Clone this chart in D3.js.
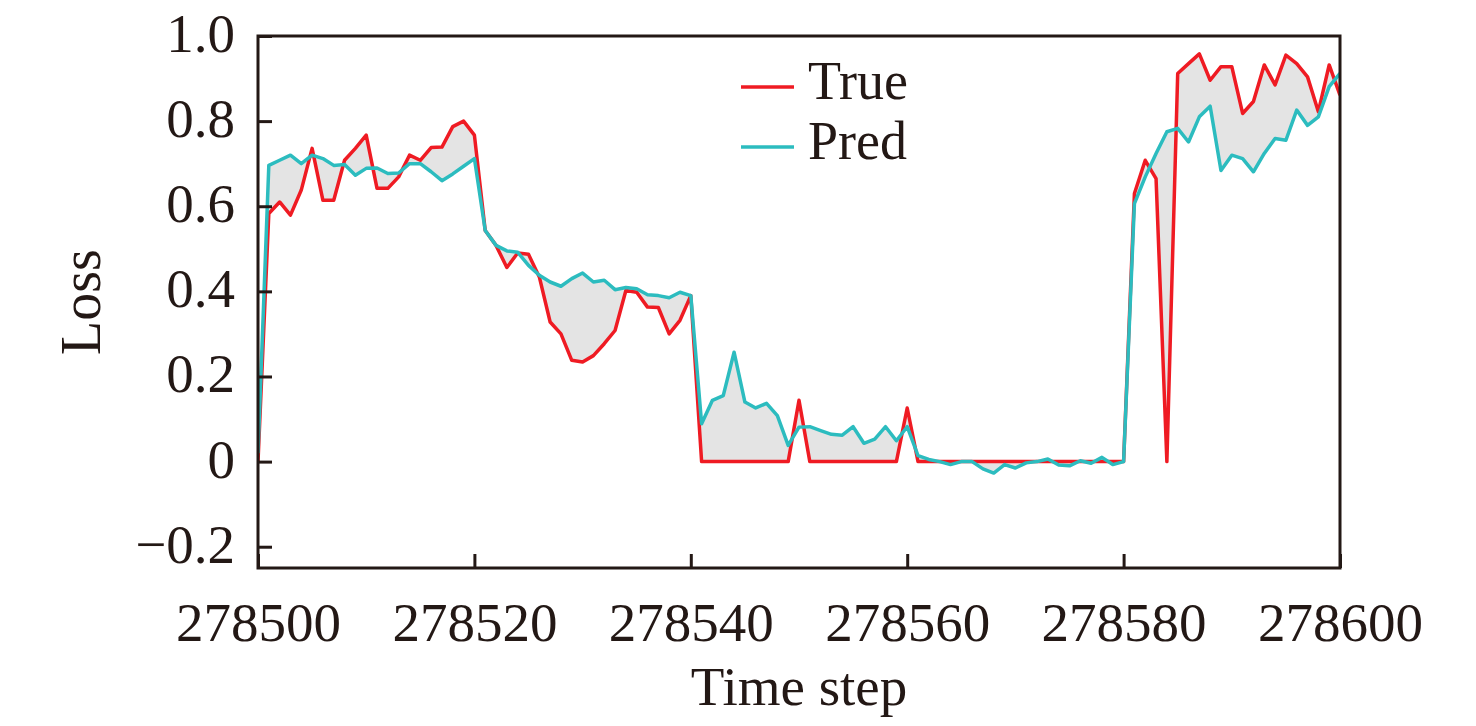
<!DOCTYPE html>
<html>
<head>
<meta charset="utf-8">
<script src="https://cdn.jsdelivr.net/npm/d3@7"></script>
<style>
  body { margin: 0; background: #fff; }
  svg text { font-family: "Liberation Serif", "Times New Roman", serif; fill: #231815; }
</style>
</head>
<body>
<div id="chart"></div>
<script>
// time steps 278500..278600
var steps = d3.range(278500, 278601);

// ground truth loss
var trueVals = [0.0, 0.583, 0.61, 0.579, 0.638, 0.736, 0.614, 0.614, 0.708, 0.736,
  0.767, 0.642, 0.642, 0.669, 0.72, 0.708, 0.738, 0.739, 0.787, 0.80,
  0.767, 0.543, 0.508, 0.456, 0.49, 0.487, 0.434, 0.328, 0.30, 0.238,
  0.234, 0.249, 0.277, 0.308, 0.402, 0.398, 0.363, 0.362, 0.30, 0.332,
  0.39, 0, 0, 0, 0, 0, 0, 0, 0, 0,
  0.144, 0, 0, 0, 0, 0, 0, 0, 0, 0,
  0.126, 0, 0, 0, 0, 0, 0, 0, 0, 0,
  0, 0, 0, 0, 0, 0, 0, 0, 0, 0,
  0, 0.63, 0.708, 0.665, 0, 0.912, 0.935, 0.958, 0.896, 0.928,
  0.928, 0.818, 0.846, 0.932, 0.885, 0.955, 0.935, 0.904, 0.822, 0.932,
  0.861];

// predicted loss
var predVals = [0.02, 0.696, 0.708, 0.72, 0.70, 0.72, 0.712, 0.696, 0.698, 0.673,
  0.689, 0.69, 0.677, 0.678, 0.70, 0.70, 0.681, 0.66, 0.676, 0.694,
  0.712, 0.543, 0.508, 0.495, 0.492, 0.461, 0.438, 0.422, 0.412, 0.43,
  0.443, 0.422, 0.426, 0.404, 0.409, 0.406, 0.392, 0.39, 0.385, 0.398,
  0.39, 0.089, 0.144, 0.155, 0.257, 0.14, 0.126, 0.137, 0.108, 0.038,
  0.081, 0.082, 0.073, 0.064, 0.062, 0.082, 0.043, 0.053, 0.082, 0.049,
  0.082, 0.014, 0.005, 0.0, -0.007, 0.0, 0.0, -0.017, -0.027, -0.007,
  -0.015, -0.003, 0.0, 0.006, -0.008, -0.01, 0.002, -0.004, 0.01, -0.007,
  0.0, 0.606, 0.669, 0.724, 0.775, 0.783, 0.751, 0.81, 0.835, 0.684,
  0.72, 0.712, 0.681, 0.724, 0.759, 0.755, 0.826, 0.79, 0.81, 0.881,
  0.912];

var xTicks = [278500, 278520, 278540, 278560, 278580, 278600];
var yTicks = [-0.2, 0, 0.2, 0.4, 0.6, 0.8, 1.0];
var yTickLabels = ["\u22120.2", "0", "0.2", "0.4", "0.6", "0.8", "1.0"];
var seriesNames = ["True", "Pred"];

var width = 1476, height = 726;
var plotL = 258, plotR = 1340, plotT = 36, plotB = 568;
var ink = "#231815";
var red = "#ef1b23", cyan = "#2cbcbf";

var svg = d3.select("#chart").append("svg")
  .attr("width", width)
  .attr("height", height);

var x = d3.scaleLinear().domain([278500, 278600]).range([plotL, plotR]);
var y = d3.scaleLinear().domain([-0.25, 1.0]).range([plotB, plotT]);

var data = steps.map(function(s, i) {
  return { t: s, tr: trueVals[i], pr: predVals[i] };
});

svg.append("clipPath").attr("id", "plotclip")
  .append("rect")
  .attr("x", plotL).attr("y", plotT)
  .attr("width", plotR - plotL).attr("height", plotB - plotT);

var plot = svg.append("g").attr("clip-path", "url(#plotclip)");

// gray band between the two curves
var band = d3.area()
  .x(function(d) { return x(d.t); })
  .y0(function(d) { return y(d.tr); })
  .y1(function(d) { return y(d.pr); });

plot.append("path")
  .datum(data)
  .attr("d", band)
  .attr("fill", "#e4e4e4")
  .attr("stroke", "none");

var lineTrue = d3.line()
  .x(function(d) { return x(d.t); })
  .y(function(d) { return y(d.tr); });
var linePred = d3.line()
  .x(function(d) { return x(d.t); })
  .y(function(d) { return y(d.pr); });

plot.append("path")
  .datum(data)
  .attr("d", lineTrue)
  .attr("fill", "none")
  .attr("stroke", red)
  .attr("stroke-width", 3.5)
  .attr("stroke-linejoin", "round");

plot.append("path")
  .datum(data)
  .attr("d", linePred)
  .attr("fill", "none")
  .attr("stroke", cyan)
  .attr("stroke-width", 3.5)
  .attr("stroke-linejoin", "round");

// axes, ticks pointing inward
var yAxis = d3.axisLeft(y)
  .tickValues(yTicks)
  .tickSizeInner(-14)
  .tickSizeOuter(0)
  .tickFormat(function(d, i) { return yTickLabels[i]; });

var gy = svg.append("g")
  .attr("transform", "translate(" + plotL + ",0)")
  .call(yAxis);
gy.select(".domain").remove();
gy.selectAll(".tick line").attr("stroke", ink).attr("stroke-width", 3);
gy.selectAll(".tick text")
  .attr("x", -23)
  .attr("dy", "0.28em")
  .style("font-size", "55px")
  .attr("fill", ink);

var xAxis = d3.axisBottom(x)
  .tickValues(xTicks)
  .tickSizeInner(-14)
  .tickSizeOuter(0)
  .tickFormat(d3.format("d"));

var gx = svg.append("g")
  .attr("transform", "translate(0," + plotB + ")")
  .call(xAxis);
gx.select(".domain").remove();
gx.selectAll(".tick line").attr("stroke", ink).attr("stroke-width", 3);
gx.selectAll(".tick text")
  .attr("y", 73)
  .attr("dy", 0)
  .style("font-size", "55px")
  .attr("fill", ink);

// frame
svg.append("rect")
  .attr("x", plotL).attr("y", plotT)
  .attr("width", plotR - plotL).attr("height", plotB - plotT)
  .attr("fill", "none")
  .attr("stroke", ink)
  .attr("stroke-width", 3);

// axis titles
svg.append("text")
  .attr("transform", "translate(100," + ((plotT + plotB) / 2) + ") rotate(-90)")
  .attr("text-anchor", "middle")
  .style("font-size", "56px")
  .text("Loss");

svg.append("text")
  .attr("x", (plotL + plotR) / 2)
  .attr("y", 705)
  .attr("text-anchor", "middle")
  .style("font-size", "55px")
  .text("Time step");

// legend
var legend = svg.append("g");
[red, cyan].forEach(function(c, i) {
  var ly = 87 + i * 60;
  legend.append("line")
    .attr("x1", 741).attr("x2", 794)
    .attr("y1", ly).attr("y2", ly)
    .attr("stroke", c)
    .attr("stroke-width", 3.5);
  legend.append("text")
    .attr("x", 808)
    .attr("y", ly + 12)
    .style("font-size", "54px")
    .text(seriesNames[i]);
});
</script>
</body>
</html>
